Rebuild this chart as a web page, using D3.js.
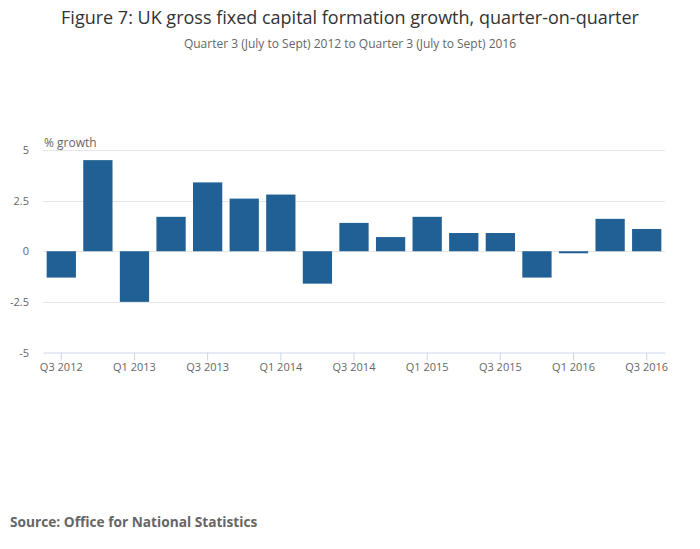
<!DOCTYPE html>
<html>
<head>
<meta charset="utf-8">
<script src="https://cdn.jsdelivr.net/npm/d3@7"></script>
<style>
  body { margin: 0; background: #fff; }
  text { font-family: "Open Sans", sans-serif; }
</style>
</head>
<body>
<div id="chart"></div>
<script>
// quarters and growth values (% q-on-q)
var quarters = ['Q3 2012', 'Q4 2012', 'Q1 2013', 'Q2 2013', 'Q3 2013', 'Q4 2013',
  'Q1 2014', 'Q2 2014', 'Q3 2014', 'Q4 2014', 'Q1 2015', 'Q2 2015', 'Q3 2015',
  'Q4 2015', 'Q1 2016', 'Q2 2016', 'Q3 2016'];
var growth = [-1.3, 4.5, -2.5, 1.7, 3.4, 2.6, 2.8, -1.6, 1.4, 0.7, 1.7, 0.9, 0.9, -1.3, -0.1, 1.6, 1.1];
var tickLabels = ['Q3 2012', 'Q1 2013', 'Q3 2013', 'Q1 2014', 'Q3 2014', 'Q1 2015', 'Q3 2015', 'Q1 2016', 'Q3 2016'];
var yTicks = [-5, -2.5, 0, 2.5, 5];

var width = 700, height = 549;
var plotLeft = 43, plotRight = 665, plotTop = 150, plotBottom = 352.5;

var svg = d3.select('#chart').append('svg')
  .attr('width', width)
  .attr('height', height);

var x = d3.scaleBand().domain(quarters).range([plotLeft, plotRight]).paddingInner(0.2).paddingOuter(0.1);
var y = d3.scaleLinear().domain([-5, 5]).range([plotBottom, plotTop]);

svg.append('text')
  .attr('x', width / 2).attr('y', 24)
  .attr('text-anchor', 'middle')
  .attr('fill', '#333').attr('font-size', 18)
  .text('Figure 7: UK gross fixed capital formation growth, quarter-on-quarter');

svg.append('text')
  .attr('x', width / 2).attr('y', 48)
  .attr('text-anchor', 'middle')
  .attr('fill', '#666').attr('font-size', 12)
  .text('Quarter 3 (July to Sept) 2012 to Quarter 3 (July to Sept) 2016');

// gridlines
svg.append('g').selectAll('line')
  .data(yTicks.filter(function(d) { return d !== -5; }))
  .enter().append('line')
  .attr('x1', plotLeft).attr('x2', plotRight)
  .attr('y1', function(d) { return Math.round(y(d)) + 0.5; })
  .attr('y2', function(d) { return Math.round(y(d)) + 0.5; })
  .attr('stroke', '#e6e6e6');

// y labels
svg.append('g').selectAll('text')
  .data(yTicks)
  .enter().append('text')
  .attr('x', 29)
  .attr('y', function(d) { return y(d) + 4; })
  .attr('text-anchor', 'end')
  .attr('fill', '#666').attr('font-size', 11)
  .text(function(d) { return d; });

svg.append('text')
  .attr('x', 44).attr('y', 147)
  .attr('fill', '#666').attr('font-size', 12)
  .text('% growth');

// bars
svg.append('g').selectAll('rect')
  .data(growth)
  .enter().append('rect')
  .attr('x', function(d, i) { return x(quarters[i]); })
  .attr('width', x.bandwidth())
  .attr('y', function(d) { return y(Math.max(0, d)); })
  .attr('height', function(d) { return Math.abs(y(d) - y(0)); })
  .attr('fill', '#206095');

// x axis
var xAxis = d3.axisBottom(x).tickValues(tickLabels).tickSize(8).tickSizeOuter(0);
var gx = svg.append('g')
  .attr('transform', 'translate(0,' + (Math.round(plotBottom) - 0.5) + ')')
  .call(xAxis);
gx.select('.domain').attr('stroke', '#ccd6eb');
gx.selectAll('.tick line').attr('stroke', '#ccd6eb');
gx.selectAll('.tick text')
  .attr('fill', '#666').attr('font-size', 11)
  .attr('font-family', '"Open Sans", sans-serif');

svg.append('text')
  .attr('x', 10).attr('y', 527)
  .attr('fill', '#666').attr('font-size', 13.7).attr('font-weight', 'bold')
  .text('Source: Office for National Statistics');
</script>
</body>
</html>
